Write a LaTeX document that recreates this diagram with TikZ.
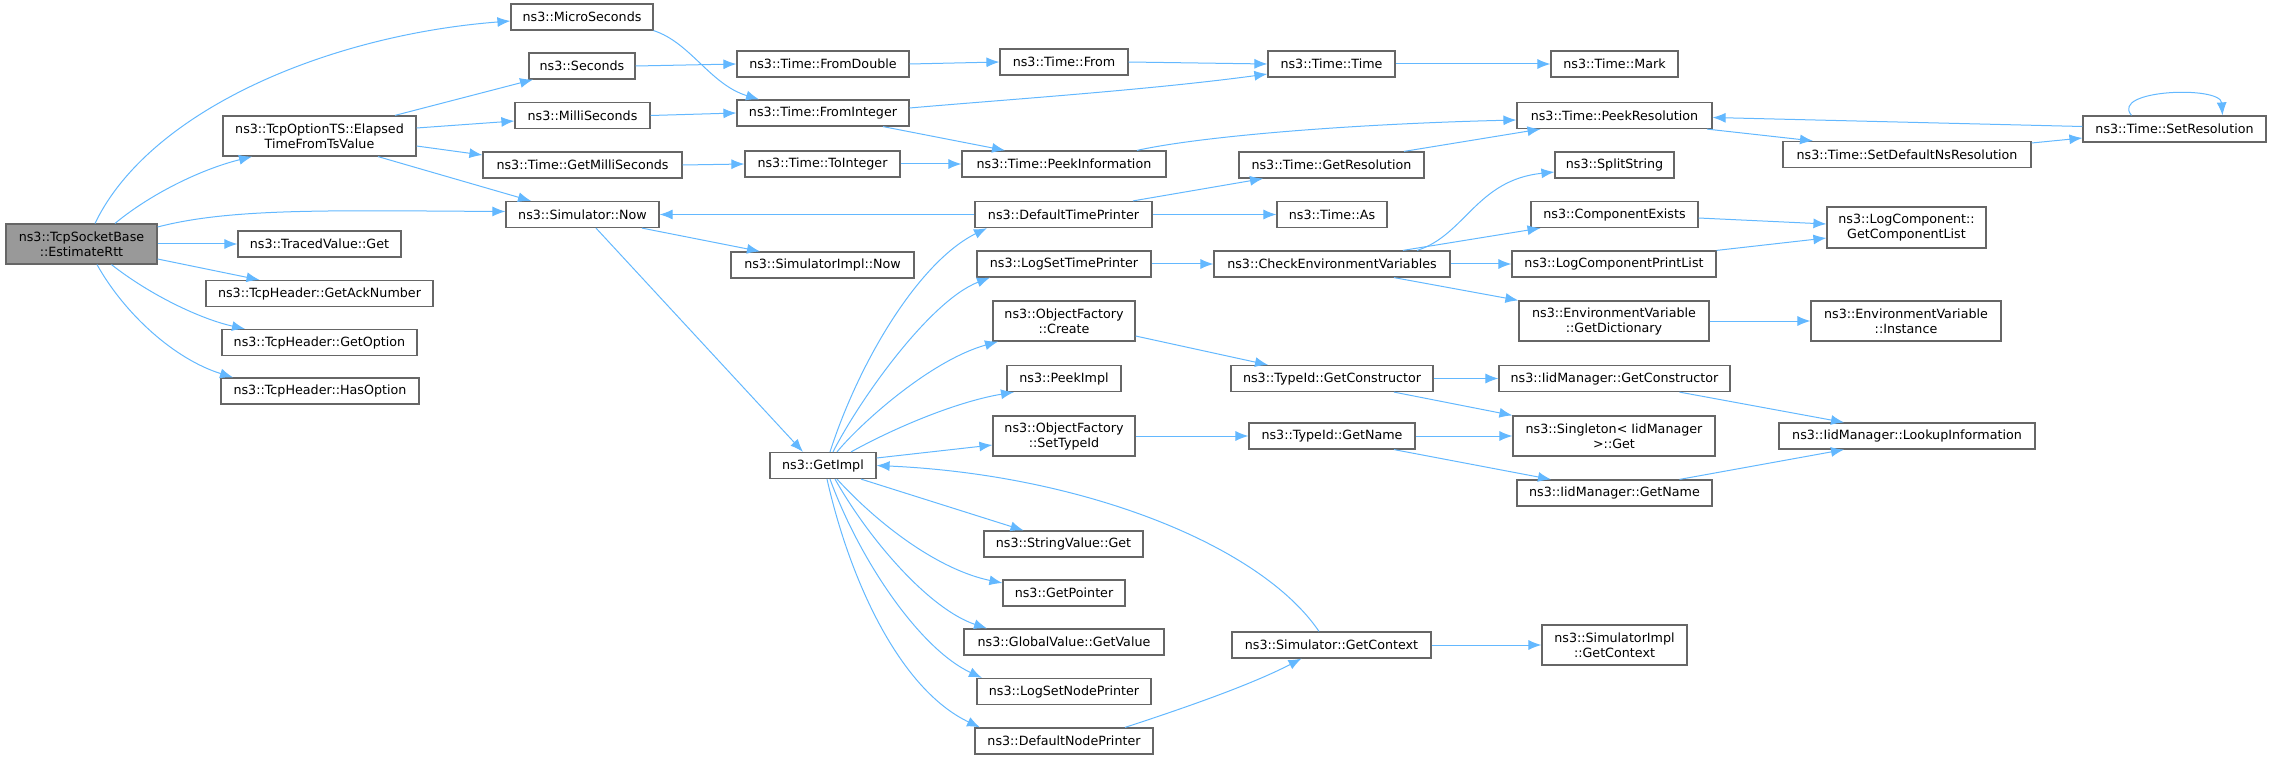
\documentclass[tikz,border=0pt]{standalone}
\usepackage{fontspec}
\setmainfont{DejaVu Sans}
\usetikzlibrary{arrows.meta}
\definecolor{edgeblue}{HTML}{63B8FF}
\definecolor{boxgray}{HTML}{666666}
\definecolor{rootgray}{HTML}{999999}

\begin{document}
\begin{tikzpicture}[x=1pt, y=-1pt, line width=1pt,
  fn/.style={draw=boxgray, line width=1.2pt, fill=white, inner sep=0pt, minimum height=26pt, font=\fontsize{12.7}{15}\selectfont},
  fn2/.style={fn, minimum height=40pt, align=center},
  call/.style={draw=edgeblue, -{Latex[length=13pt,width=10pt]}}]

\useasboundingbox (0,0) rectangle (2272,759);

% Draw caller and the first column of callees
\node[fn2, fill=rootgray, minimum width=151pt] (est) at (81.5,244) {ns3::TcpSocketBase\\::EstimateRtt};
\node[fn2, minimum width=193pt] (elapsed) at (319.5,136) {ns3::TcpOptionTS::Elapsed\\TimeFromTsValue};
\node[fn, minimum width=163pt] (traced) at (319.5,244) {ns3::TracedValue::Get};
\node[fn, minimum width=227pt] (acknum) at (319.5,293.5) {ns3::TcpHeader::GetAckNumber};
\node[fn, minimum width=195pt] (getopt) at (319.5,342.5) {ns3::TcpHeader::GetOption};
\node[fn, minimum width=198pt] (hasopt) at (320,391) {ns3::TcpHeader::HasOption};

% Draw time helpers and simulator
\node[fn, minimum width=142pt] (micro) at (582,17) {ns3::MicroSeconds};
\node[fn, minimum width=106pt] (secs) at (582,66) {ns3::Seconds};
\node[fn, minimum width=135pt] (milli) at (582.5,115.5) {ns3::MilliSeconds};
\node[fn, minimum width=199pt] (getms) at (582.5,165) {ns3::Time::GetMilliSeconds};
\node[fn, minimum width=153pt] (simnow) at (582.5,214.5) {ns3::Simulator::Now};

\node[fn, minimum width=172pt] (fromdbl) at (823,64) {ns3::Time::FromDouble};
\node[fn, minimum width=172pt] (fromint) at (823,113) {ns3::Time::FromInteger};
\node[fn, minimum width=155pt] (toint) at (822.5,164) {ns3::Time::ToInteger};
\node[fn, minimum width=183pt] (implnow) at (822.5,265) {ns3::SimulatorImpl::Now};
\node[fn, minimum width=106pt] (getimpl) at (823,465.5) {ns3::GetImpl};

% Draw the GetImpl column
\node[fn, minimum width=128pt] (from) at (1064,62) {ns3::Time::From};
\node[fn, minimum width=204pt] (peekinfo) at (1064,164) {ns3::Time::PeekInformation};
\node[fn, minimum width=177pt] (deftp) at (1063.5,214.5) {ns3::DefaultTimePrinter};
\node[fn, minimum width=174pt] (logstp) at (1064,264) {ns3::LogSetTimePrinter};
\node[fn2, minimum width=142pt] (create) at (1064,321) {ns3::ObjectFactory\\::Create};
\node[fn, minimum width=114pt] (peekimpl) at (1064,378.5) {ns3::PeekImpl};
\node[fn2, minimum width=142pt] (settype) at (1064,436) {ns3::ObjectFactory\\::SetTypeId};
\node[fn, minimum width=159pt] (strget) at (1063.5,544) {ns3::StringValue::Get};
\node[fn, minimum width=122pt] (getptr) at (1064,593) {ns3::GetPointer};
\node[fn, minimum width=200pt] (gvget) at (1064,642) {ns3::GlobalValue::GetValue};
\node[fn, minimum width=174pt] (logsnp) at (1064,691.5) {ns3::LogSetNodePrinter};
\node[fn, minimum width=178pt] (defnp) at (1064,741) {ns3::DefaultNodePrinter};

\node[fn, minimum width=127pt] (timetime) at (1331.5,64) {ns3::Time::Time};
\node[fn, minimum width=185pt] (getres) at (1331.5,165) {ns3::Time::GetResolution};
\node[fn, minimum width=110pt] (timeas) at (1332,214.5) {ns3::Time::As};
\node[fn, minimum width=236pt] (checkenv) at (1332,264) {ns3::CheckEnvironmentVariables};
\node[fn, minimum width=202pt] (tidctor) at (1332,378.5) {ns3::TypeId::GetConstructor};
\node[fn, minimum width=166pt] (tidname) at (1332,436) {ns3::TypeId::GetName};
\node[fn, minimum width=199pt] (getctx) at (1331.5,645) {ns3::Simulator::GetContext};

% Draw the right part
\node[fn, minimum width=127pt] (mark) at (1614.5,64) {ns3::Time::Mark};
\node[fn, minimum width=195pt] (peekres) at (1614.5,115.5) {ns3::Time::PeekResolution};
\node[fn, minimum width=119pt] (split) at (1614.5,165) {ns3::SplitString};
\node[fn, minimum width=167pt] (compex) at (1614.5,214.5) {ns3::ComponentExists};
\node[fn, minimum width=204pt] (lcpl) at (1614,264) {ns3::LogComponentPrintList};
\node[fn2, minimum width=190pt] (getdict) at (1614,321) {ns3::EnvironmentVariable\\::GetDictionary};
\node[fn, minimum width=231pt] (iidctor) at (1614.5,378.5) {ns3::IidManager::GetConstructor};
\node[fn2, minimum width=202pt] (single) at (1614,436) {ns3::Singleton< IidManager\\>::Get};
\node[fn, minimum width=195pt] (iidname) at (1614.5,493) {ns3::IidManager::GetName};
\node[fn2, minimum width=145pt] (implctx) at (1614.5,645) {ns3::SimulatorImpl\\::GetContext};

\node[fn, minimum width=248pt] (setdefns) at (1907,154.5) {ns3::Time::SetDefaultNsResolution};
\node[fn2, minimum width=159pt, minimum height=41pt] (complist) at (1906.5,227.5) {ns3::LogComponent::\\GetComponentList};
\node[fn2, minimum width=190pt] (envinst) at (1906,321) {ns3::EnvironmentVariable\\::Instance};
\node[fn, minimum width=256pt] (lookup) at (1907,436) {ns3::IidManager::LookupInformation};
\node[fn, minimum width=183pt] (setres) at (2174.5,129) {ns3::Time::SetResolution};

% Draw calls of EstimateRtt
\draw[call] ([xshift=13.5pt]est.north) .. controls +(55,-114) and +(-181,14) .. ([yshift=-4pt]micro.west);
\draw[call] ([xshift=33.5pt]est.north) .. controls +(35,-29) and +(-52,13) .. ([xshift=-67.5pt]elapsed.south);
\draw[call] ([yshift=17pt]est.east) .. controls +(73,-19) and +(-176,-1) .. ([yshift=3pt]simnow.west);
\draw[call] (est.east) -- (traced.west);
\draw[call] ([yshift=-15pt]est.east) -- ([xshift=-60pt]acknum.north);
\draw[call] ([xshift=30pt]est.south) .. controls +(38,30) and +(-45,-10) .. ([xshift=-74.5pt]getopt.north);
\draw[call] ([xshift=15.5pt]est.south) .. controls +(28,50) and +(-58,-18) .. ([xshift=-87pt]hasopt.north);

% Draw calls of ElapsedTimeFromTsValue
\draw[call] ([xshift=75.5pt]elapsed.north) -- ([xshift=-49pt]secs.south);
\draw[call] ([yshift=8pt]elapsed.east) -- ([yshift=-5.5pt]milli.west);
\draw[call] ([yshift=-10pt]elapsed.east) -- ([yshift=10pt]getms.west);
\draw[call] ([xshift=58.5pt]elapsed.south) -- ([xshift=-51.5pt]simnow.north);

% Draw time conversions
\draw[call] (micro.south east) .. controls +(37,12) and +(-49,-15) .. ([xshift=-64pt]fromint.north);
\draw[call] (secs.east) -- (fromdbl.west);
\draw[call] (milli.east) -- (fromint.west);
\draw[call] (getms.east) -- (toint.west);
\draw[call] (fromdbl.east) -- (from.west);
\draw[call] (from.east) -- (timetime.west);
\draw[call] ([yshift=5pt]fromint.east) .. controls +(91,-8) and +(-118,16) .. ([yshift=-10pt]timetime.west);
\draw[call] ([xshift=60pt]fromint.south) -- ([xshift=-59pt]peekinfo.north);
\draw[call] (toint.east) -- (peekinfo.west);
\draw[call] (timetime.east) -- (mark.west);
\draw[call] ([xshift=73pt]peekinfo.north) .. controls +(63,-14) and +(-167,4) .. ([yshift=-4.5pt]peekres.west);
\draw[call] ([xshift=72.5pt]getres.north) -- ([xshift=-74pt]peekres.south);
\draw[call] ([xshift=92.5pt]peekres.south) -- ([xshift=-94pt]setdefns.north);
\draw[call] ([yshift=11.5pt]setdefns.east) -- ([yshift=-9pt]setres.west);
\draw[call] ([yshift=2.5pt]setres.west) -- ([yshift=-2pt]peekres.east);
\draw[call] ([xshift=-43pt]setres.north) .. controls +(-22,-26) and +(-2,-30) .. ([xshift=48pt]setres.north);

% Draw calls of Simulator::Now and DefaultTimePrinter
\draw[call] ([xshift=59.5pt]simnow.south) -- ([xshift=-62.5pt]implnow.north);
\draw[call] ([xshift=13.5pt]simnow.south) -- ([xshift=-20pt]getimpl.north);
\draw[call] (deftp.west) -- (simnow.east);
\draw[call] ([xshift=69.5pt]deftp.north) -- ([xshift=-68.5pt]getres.south);
\draw[call] (deftp.east) -- (timeas.west);

% Draw calls of LogSetTimePrinter
\draw[call] (logstp.east) -- (checkenv.west);
\draw[call] ([xshift=85pt]checkenv.north) .. controls +(48,-15) and +(-78,8) .. ([yshift=-7pt]split.west);
\draw[call] ([xshift=71pt]checkenv.north) -- ([xshift=-74pt]compex.south);
\draw[call] (checkenv.east) -- (lcpl.west);
\draw[call] ([xshift=62pt]checkenv.south) -- (getdict.north west);
\draw[call] ([yshift=-3.5pt]compex.east) -- ([yshift=3.5pt]complist.west);
\draw[call] (lcpl.north east) -- ([yshift=-10.5pt]complist.west);
\draw[call] (getdict.east) -- (envinst.west);

% Draw calls of GetImpl
\draw[call] ([xshift=7pt]getimpl.north) .. controls +(30,-93) and +(-67,33) .. ([xshift=-76.5pt]deftp.south);
\draw[call] ([xshift=10pt]getimpl.north) .. controls +(27,-53) and +(-60,23) .. ([xshift=-74pt]logstp.south);
\draw[call] ([xshift=14pt]getimpl.north) .. controls +(23,-28) and +(-68,19) .. ([xshift=-66pt]create.south);
\draw[call] ([xshift=28pt]getimpl.north) .. controls +(49,-27) and +(-54,9) .. ([xshift=-50pt]peekimpl.south);
\draw[call] ([yshift=7.5pt]getimpl.east) -- ([yshift=-9pt]settype.west);
\draw[call] ([xshift=38pt]getimpl.south) -- ([xshift=-40pt]strget.north);
\draw[call] ([xshift=14pt]getimpl.south) .. controls +(43,47) and +(-63,-13) .. ([yshift=10pt]getptr.west);
\draw[call] ([xshift=12pt]getimpl.south) .. controls +(35,62) and +(-57,-19) .. ([xshift=-77pt]gvget.north);
\draw[call] ([xshift=7pt]getimpl.south) .. controls +(30,82) and +(-62,-29) .. ([xshift=-82pt]logsnp.north);
\draw[call] ([xshift=4pt]getimpl.south) .. controls +(23,102) and +(-80,-38) .. ([xshift=-84pt]defnp.north);

% Draw type id lookups
\draw[call] ([yshift=-15pt]create.east) -- ([xshift=-64pt]tidctor.north);
\draw[call] (settype.east) -- (tidname.west);
\draw[call] (tidctor.east) -- (iidctor.west);
\draw[call] ([xshift=62pt]tidctor.south) -- (single.north west);
\draw[call] (tidname.east) -- (single.west);
\draw[call] ([xshift=62pt]tidname.south) -- ([xshift=-63.5pt]iidname.north);
\draw[call] ([xshift=65pt]iidctor.south) -- ([xshift=-63pt]lookup.north);
\draw[call] ([xshift=65pt]iidname.north) -- ([xshift=-63pt]lookup.south);

% Draw context calls
\draw[call] ([xshift=61pt]defnp.north) .. controls +(55,-18) and +(-52,27) .. ([xshift=-30pt]getctx.south);
\draw[call] ([xshift=-12.5pt]getctx.north) .. controls +(-59,-87) and +(204,9) .. (getimpl.east);
\draw[call] (getctx.east) -- (implctx.west);

\end{tikzpicture}
\end{document}
